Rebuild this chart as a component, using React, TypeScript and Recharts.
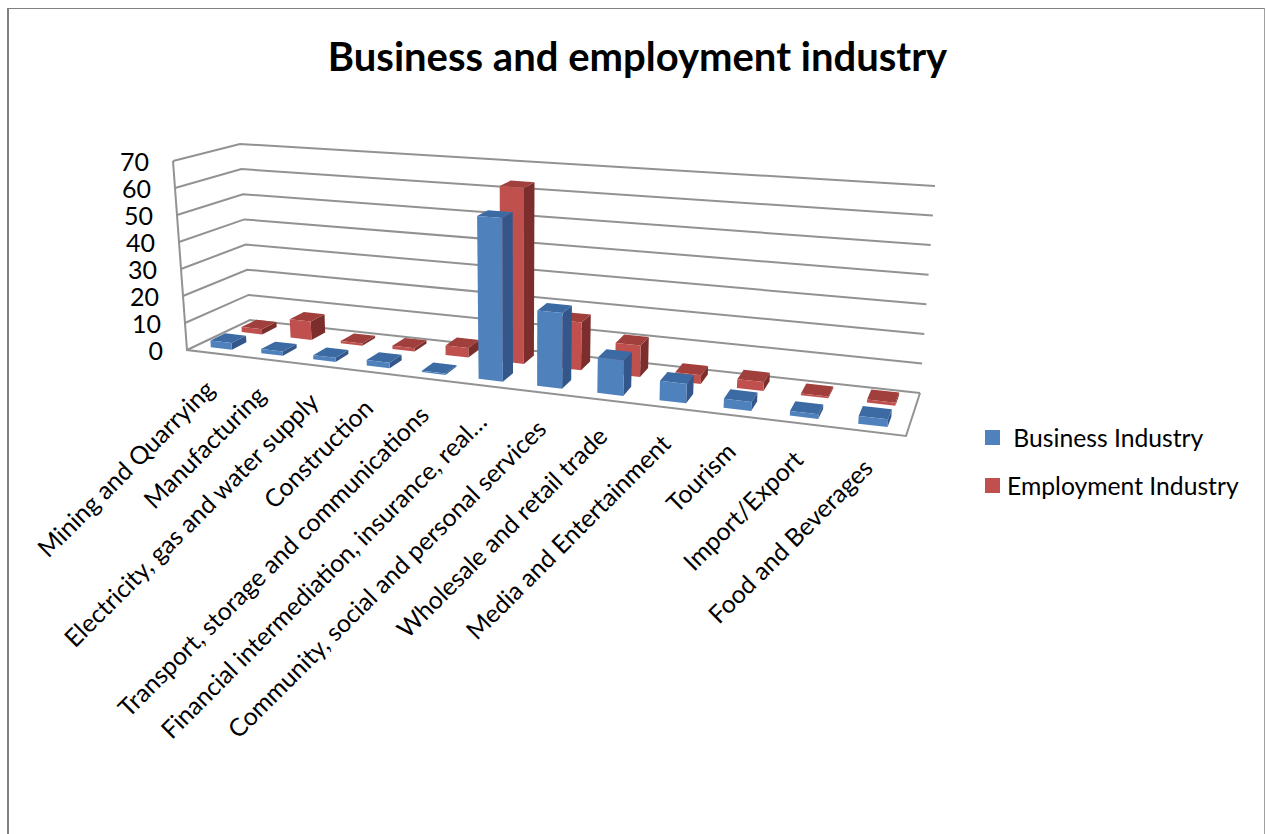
import {Bar, BarChart, CartesianGrid, Legend, XAxis, YAxis} from 'recharts';

const categories = [
    'Mining and Quarrying',
    'Manufacturing',
    'Electricity, gas and water supply',
    'Construction',
    'Transport, storage and communications',
    'Financial intermediation, insurance, real…',
    'Community, social and personal services',
    'Wholesale and retail trade',
    'Media and Entertainment',
    'Tourism',
    'Import/Export',
    'Food and Beverages',
];
const businessValues = [2.5, 1.5, 1.5, 2, 0.5, 57, 26, 12, 6.5, 3, 1.5, 2.5];
const employmentValues = [2, 7, 0.8, 1.2, 3.5, 63.5, 17, 11, 3, 3, 0.6, 1];
const valueTicks = [0, 10, 20, 30, 40, 50, 60, 70];

const tableData = categories.map((name, i) => ({
    name,
    business: businessValues[i],
    employment: employmentValues[i],
}));

const FONT = 'Lato, "Open Sans", sans-serif';
const GRID = '#929292';

const margin = {top: 100, right: 36, bottom: 33, left: 29};
const PLOT_LEFT = 30;
const PLOT_W = 1200;
const PLOT_H = 700;
const BAR_W = 42;

// Corners of the 3D box on screen
const box = {
    frontFloorL: [187, 350], frontFloorR: [906, 436],
    backFloorL: [250, 320], backFloorR: [920, 393],
    frontTopL: [173, 161], frontTopR: [922, 214],
    backTopL: [240, 144], backTopR: [935, 186],
};

const mix = (a: number[], b: number[], t: number) => [a[0] + (b[0] - a[0]) * t, a[1] + (b[1] - a[1]) * t];

// u along categories, v front to back, w floor to top
const project = (u: number, v: number, w: number) => {
    const k = 1.2;
    const p = u / (u + k * (1 - u));
    const floor = mix(mix(box.frontFloorL, box.frontFloorR, p), mix(box.backFloorL, box.backFloorR, p), v);
    const top = mix(mix(box.frontTopL, box.frontTopR, p), mix(box.backTopL, box.backTopR, p), v);
    return mix(floor, top, w);
};

const poly = (pts: number[][]) => pts.map(p => `${p[0].toFixed(1)},${p[1].toFixed(1)}`).join(' ');

const toU = (x: number) => (x - PLOT_LEFT) / PLOT_W;
const toW = (y: number) => (margin.top + PLOT_H - y) / PLOT_H;

const makeColumn = (v0: number, v1: number, front: string, side: string, top: string) => (props: any) => {
    const u0 = toU(props.x);
    const u1 = toU(props.x + props.width);
    const w = props.height / PLOT_H;
    return (
        <g>
            <polygon
                points={poly([project(u1, v0, 0), project(u1, v1, 0), project(u1, v1, w), project(u1, v0, w)])}
                fill={side}
            />
            <polygon
                points={poly([project(u0, v0, w), project(u1, v0, w), project(u1, v1, w), project(u0, v1, w)])}
                fill={top}
            />
            <polygon
                points={poly([project(u0, v0, 0), project(u1, v0, 0), project(u1, v0, w), project(u0, v0, w)])}
                fill={front}
            />
        </g>
    );
};

const BusinessColumn = makeColumn(0.15, 0.39, '#4F81BD', '#33578a', '#3c6aa3');
const EmploymentColumn = makeColumn(0.65, 0.89, '#C0504D', '#7c2e2c', '#a03f3c');

const GridLine = (props: any) => {
    const w = toW(props.y1);
    return (
        <polyline
            key={props.key}
            points={poly([project(0, 0, w), project(0, 1, w), project(1, 1, w)])}
            fill="none"
            stroke={GRID}
            strokeWidth={2}
        />
    );
};

const FloorFrame = () => (
    <polyline
        points={poly([project(0, 0, 1), project(0, 0, 0), project(1, 0, 0), project(1, 1, 0)])}
        fill="none"
        stroke={GRID}
        strokeWidth={2}
    />
);

const CategoryTick = (props: any) => {
    const [px, py] = project(toU(props.x), 0, 0);
    const tx = px + 4;
    const ty = py + 38;
    return (
        <text
            x={tx}
            y={ty}
            transform={`rotate(-45 ${tx} ${ty})`}
            textAnchor="end"
            fontFamily={FONT}
            fontSize={24.8}
            fill="#000"
        >
            {props.payload.value}
        </text>
    );
};

const ValueTick = (props: any) => {
    const [px, py] = project(0, 0, toW(props.y));
    return (
        <text x={px - 24} y={py + 9.5} textAnchor="end" fontFamily={FONT} fontSize={25} fill="#000">
            {props.payload.value}
        </text>
    );
};

const LegendBox = ({payload}: any) => (
    <div style={{fontFamily: FONT, fontSize: 24.7, color: '#000'}}>
        {(payload || []).map((entry: any) => (
            <div key={entry.value} style={{display: 'flex', alignItems: 'center', height: 48, whiteSpace: 'pre'}}>
                <span style={{width: 15, height: 15, background: entry.color, marginRight: 7}}/>
                {entry.value}
            </div>
        ))}
    </div>
);

export default function App() {
    return (
        <div style={{position: 'absolute', left: 0, top: 0, width: 1266, height: 834, background: '#fff'}}>
            <div
                style={{
                    position: 'absolute',
                    left: 7,
                    top: 8,
                    width: 1258,
                    height: 826,
                    boxSizing: 'border-box',
                    borderTop: '1.5px solid #808080',
                    borderLeft: '2px solid #808080',
                    borderRight: '1px solid #a0a0a0',
                }}
            />
            <div style={{position: 'absolute', left: 0, top: 0}}>
                <BarChart
                    width={1266}
                    height={834}
                    data={tableData}
                    margin={margin}
                    barSize={BAR_W}
                    barGap={-BAR_W}
                >
                    <text x={637.5} y={71} textAnchor="middle" fontFamily={FONT} fontWeight={700} fontSize={40}>
                        Business and employment industry
                    </text>
                    <CartesianGrid horizontal={GridLine as any} vertical={false}/>
                    <FloorFrame/>
                    <XAxis
                        dataKey="name"
                        height={1}
                        interval={0}
                        axisLine={false}
                        tickLine={false}
                        tick={CategoryTick as any}
                    />
                    <YAxis
                        width={1}
                        domain={[0, 70]}
                        ticks={valueTicks}
                        axisLine={false}
                        tickLine={false}
                        tick={ValueTick as any}
                    />
                    <Bar
                        dataKey="employment"
                        name="Employment Industry"
                        fill="#C0504D"
                        shape={EmploymentColumn}
                        isAnimationActive={false}
                    />
                    <Bar
                        dataKey="business"
                        name=" Business Industry"
                        fill="#4F81BD"
                        shape={BusinessColumn}
                        isAnimationActive={false}
                    />
                    <Legend
                        layout="vertical"
                        align="center"
                        verticalAlign="middle"
                        content={LegendBox as any}
                        wrapperStyle={{left: 985, top: 413, width: 270}}
                    />
                </BarChart>
            </div>
        </div>
    );
}
